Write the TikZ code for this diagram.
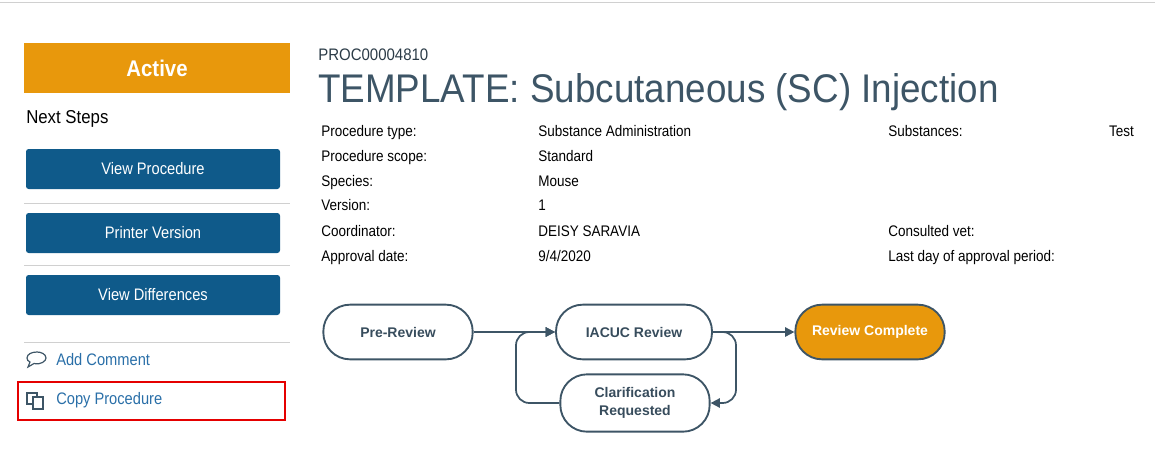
\documentclass[tikz,border=0pt]{standalone}
\usepackage{fontspec}
\setmainfont{Liberation Sans}
\usetikzlibrary{arrows.meta}
\definecolor{orng}{HTML}{E8980C}
\definecolor{btn}{HTML}{0F5A8A}
\definecolor{slate}{HTML}{3D5566}
\definecolor{lnk}{HTML}{2A6FA8}
\definecolor{sep}{HTML}{D0D0D0}
\tikzset{
 px/.style={x=0.75pt,y=-0.75pt},
 btnbox/.style={fill=btn,rounded corners=2pt,text=white,font=\fontsize{12.5}{14}\selectfont},
 lbl/.style={anchor=base west,inner sep=0,text=black,font=\fontsize{11.5}{13}\selectfont},
 flow/.style={draw=slate,line width=1.4pt,rounded corners=20pt,minimum width=112pt,minimum height=41pt,font=\bfseries\fontsize{10.5}{13}\selectfont,text=slate!90!black,align=center},
 conn/.style={draw=slate,line width=1.3pt,-{Triangle[length=7pt,width=7pt]}},
}
\begin{document}
\begin{tikzpicture}[px]
\useasboundingbox (0,0) rectangle (1155,468);
\draw[sep] (0,2) -- (1155,2);
% left panel
\node[fill=orng,text=white,minimum width=199.5pt,minimum height=38pt,inner sep=0,font=\fontsize{17}{20}\selectfont\bfseries] (active) at (157,68) {\scalebox{0.9}[1]{Active}};
\node[anchor=west,inner sep=0,font=\fontsize{14}{16}\selectfont] (next) at (26,119) {\scalebox{0.9}[1]{Next Steps}};
\node[btnbox,minimum width=190.5pt,minimum height=30pt] (b1) at (153,169) {\scalebox{0.88}[1]{View Procedure}};
\node[btnbox,minimum width=190.5pt,minimum height=30pt] (b2) at (153,233) {\scalebox{0.88}[1]{Printer Version}};
\node[btnbox,minimum width=190.5pt,minimum height=30pt] (b3) at (153,295) {\scalebox{0.88}[1]{View Differences}};
\draw[sep] (24,203) -- (290,203);
\draw[sep] (24,265) -- (290,265);
\draw[sep] (24,342) -- (290,342);
% comment icon
\draw[slate,line width=0.9pt] (30,362) -- (28,367) -- (34,363.5) .. controls (41,365) and (46,361) .. (46,358) .. controls (46,354) and (41,352) .. (37,352) .. controls (32,352) and (27,354) .. (27,358) .. controls (27,360) and (28,361) .. (30,362) -- cycle;
\node[anchor=west,inner sep=0,text=lnk,font=\fontsize{12.5}{14}\selectfont] (addc) at (56,360) {\scalebox{0.88}[1]{Add Comment}};
% copy icon
\draw[slate,line width=0.9pt,fill=white] (27,393) rectangle (37,404);
\draw[slate,line width=0.9pt,fill=white] (33,397) rectangle (43,409);
\node[anchor=west,inner sep=0,text=lnk,font=\fontsize{12.5}{14}\selectfont] (copyp) at (56,400) {\scalebox{0.88}[1]{Copy Procedure}};
\draw[red!90!black,line width=1.6pt] (18,382) rectangle (285,420);
% header
\node[anchor=west,inner sep=0,text=slate!70!black,font=\fontsize{12.5}{14}\selectfont] (proc) at (318,55) {\scalebox{0.9}[1]{PROC00004810}};
\node[anchor=west,inner sep=0,text=slate,font=\fontsize{30}{34}\selectfont] (title) at (318,92) {\scalebox{0.92}[1]{TEMPLATE: Subcutaneous (SC) Injection}};
% table
\foreach \y/\a/\b in {136/Procedure type:/Substance Administration,161/Procedure scope:/Standard,186/Species:/Mouse,210/Version:/1,236/Coordinator:/DEISY SARAVIA}{
 \node[lbl] at (321,\y) {\scalebox{0.88}[1]{\a}};
 \node[lbl] at (538,\y) {\scalebox{0.88}[1]{\b}};
}
\node[lbl] (appr) at (321,261) {\scalebox{0.88}[1]{Approval date:}};
\node[lbl] (apprd) at (538,261) {\scalebox{0.88}[1]{9/4/2020}};
\node[lbl] (subs) at (888,136) {\scalebox{0.88}[1]{Substances:}};
\node[lbl,anchor=base east] (test) at (1134,136) {\scalebox{0.88}[1]{Test}};
\node[lbl] (vet) at (888,236) {\scalebox{0.88}[1]{Consulted vet:}};
\node[lbl] (last) at (888,261) {\scalebox{0.88}[1]{Last day of approval period:}};
% flow
\node[flow] (pre) at (398,332) {Pre-Review};
\node[flow,minimum width=117pt] (iacuc) at (634,332) {IACUC Review};
\node[flow,fill=orng,text=white] (done) at (870,332) {Review Complete};
\node[flow,minimum height=43pt] (clar) at (635,403) {Clarification\\Requested};
\draw[conn] (pre) -- (iacuc);
\draw[conn] (iacuc) -- (done);
\draw[conn,rounded corners=10pt] (iacuc.east) -- (736,332) -- (736,403) -- (clar.east);
\draw[conn,rounded corners=10pt] (clar.west) -- (516,403) -- (516,332) -- (iacuc.west);
\end{tikzpicture}
\end{document}
